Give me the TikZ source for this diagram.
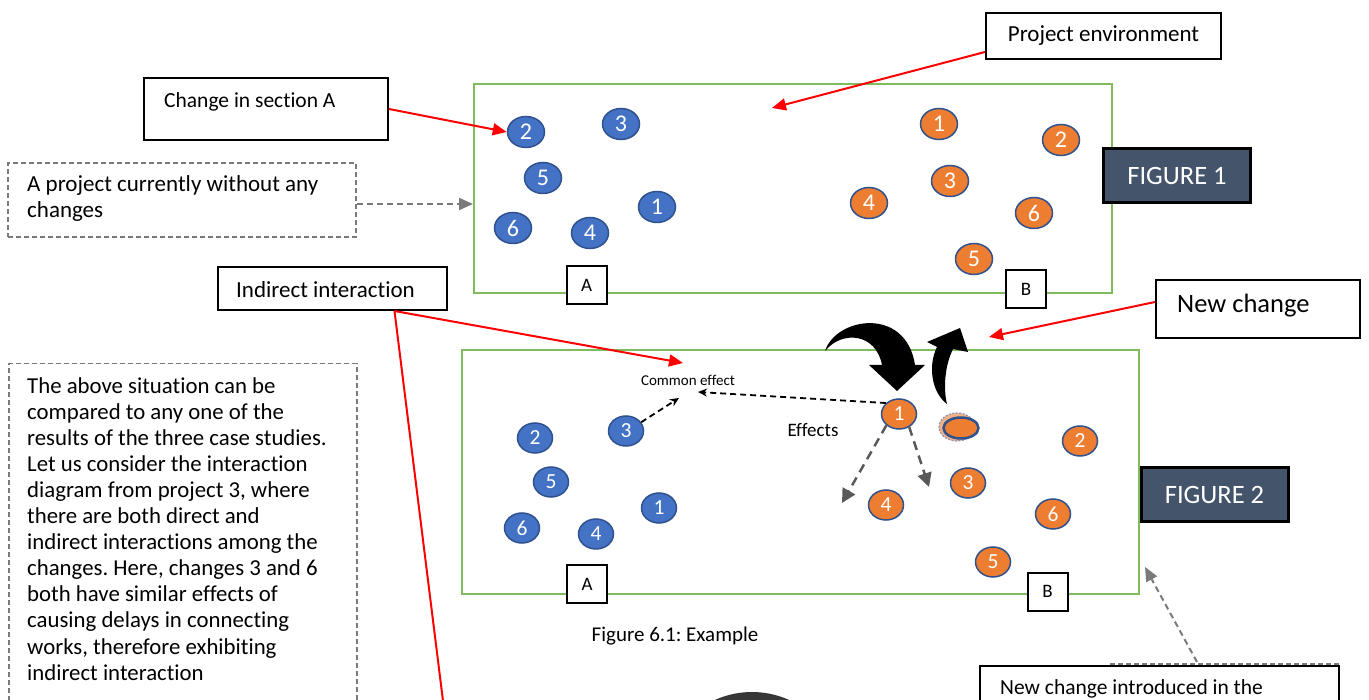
\documentclass[tikz,border=0pt]{standalone}
\usepackage{fontspec}
\setmainfont{Carlito}[Ligatures={TeX,NoCommon}]
\frenchspacing
\usetikzlibrary{shapes.geometric,arrows.meta}
\definecolor{chgblue}{HTML}{4472C4}
\definecolor{chgorange}{HTML}{ED7D31}
\definecolor{rimblue}{HTML}{2F528F}
\definecolor{envgreen}{RGB}{128,188,94}
\definecolor{slate}{HTML}{44546A}
\definecolor{ghostfill}{HTML}{F4B183}
\definecolor{notegray}{RGB}{122,122,122}

\begin{document}
\begin{tikzpicture}[x=1pt,y=-1pt,
  txt/.style={inner sep=0pt},
  env/.style={draw=envgreen, line width=2pt, inner sep=0pt},
  chgA/.style={ellipse, draw=rimblue, line width=1.5pt, fill=chgblue, text=white,
    inner sep=0pt, minimum width=37pt, minimum height=31pt, font=\fontsize{24}{24}\selectfont},
  chgB/.style={chgA, fill=chgorange},
  chgAs/.style={chgA, minimum width=35pt, minimum height=30pt, font=\fontsize{21.5}{21.5}\selectfont},
  chgBs/.style={chgAs, fill=chgorange},
  tag/.style={draw, line width=2pt, fill=white, minimum width=40pt, minimum height=38pt,
    inner sep=0pt, font=\fontsize{19}{19}\selectfont},
  figtag/.style={draw, line width=3pt, fill=slate, text=white, minimum width=147pt,
    minimum height=54pt, font=\fontsize{26.5}{26.5}\selectfont},
  callout/.style={draw, line width=2pt, fill=white, inner sep=0pt},
  notebox/.style={draw=notegray, dash pattern=on 5pt off 3pt, line width=1.5pt, inner sep=0pt},
  pointer/.style={red, line width=2pt, -{Triangle[length=14pt,width=12pt]}},
  hint/.style={draw=notegray, dash pattern=on 6pt off 4pt, line width=2pt,
    -{Triangle[length=14pt,width=12pt]}},
  effect/.style={dash pattern=on 6pt off 4pt, line width=1.8pt, -{Stealth[length=9pt,width=8pt]}},
  sideeffect/.style={draw=black!65, line width=2.5pt, dash pattern=on 9pt off 6pt,
    -{Triangle[length=14pt,width=14pt]}},
  lbl/.style={txt, font=\fontsize{23}{25.5}\selectfont}
]
\useasboundingbox (0,0) rectangle (1369,700);
\clip (0,0) rectangle (1369,700);

% ---------- project environments ----------
\node[env, minimum width=638pt, minimum height=209pt] (f1) at (793,188.5) {};
\node[env, minimum width=677pt, minimum height=244pt] (f2) at (800.5,472) {};

% ---------- figure 1: section A ----------
\node[chgA] (a12) at (526,132) {2};
\node[chgA] (a13) at (621,124) {3};
\node[chgA] (a15) at (543,178) {5};
\node[chgA] (a11) at (657,207) {1};
\node[chgA] (a16) at (513,228) {6};
\node[chgA] (a14) at (590,233) {4};
% ---------- figure 1: section B ----------
\node[chgB] (b11) at (939,124) {1};
\node[chgB] (b12) at (1061,140) {2};
\node[chgB] (b13) at (950,181) {3};
\node[chgB] (b14) at (869,203) {4};
\node[chgB] (b16) at (1034,213) {6};
\node[chgB] (b15) at (974,259) {5};

\node[tag] (f1a) at (586.5,285) {A};
\node[tag] (f1b) at (1026,289) {B};
\node[figtag] (fig1) at (1177,176) {FIGURE 1};

% ---------- figure 2: section A ----------
\node[chgAs] (a22) at (535,438) {2};
\node[chgAs] (a23) at (626,431) {3};
\node[chgAs] (a25) at (551,482) {5};
\node[chgAs] (a21) at (659,508) {1};
\node[chgAs] (a26) at (522,528) {6};
\node[chgAs] (a24) at (596,534) {4};
% ---------- figure 2: section B ----------
\node[chgBs] (b21) at (899,414) {1};
\node[chgBs] (b22) at (1080,441) {2};
\node[chgBs] (b23) at (968,483) {3};
\node[chgBs] (b24) at (886,505) {4};
\node[chgBs] (b26) at (1053,514) {6};
\node[chgBs] (b25) at (993,562) {5};
% the newly introduced change, with its faded previous position
\node[ellipse, draw=rimblue!60, dash pattern=on 2pt off 1.5pt, line width=1.2pt, fill=ghostfill,
  minimum width=36pt, minimum height=28pt, inner sep=0pt] (ghost) at (957,427) {};
\node[ellipse, draw=rimblue, line width=2.5pt, fill=chgorange,
  minimum width=35pt, minimum height=21pt, inner sep=0pt] (newone) at (961,428) {};

\node[tag] (f2a) at (587,584) {A};
\node[tag] (f2b) at (1047.5,591.5) {B};
\node[figtag] (fig2) at (1214.5,495) {FIGURE 2};

% ---------- effects inside figure 2 ----------
\node[txt, font=\fontsize{15}{15}\selectfont] (ce) at (688,380) {Common effect};
\node[txt, font=\fontsize{19}{19}\selectfont] (eff) at (813,430) {Effects};
\coordinate (ceR) at (698,392);
\coordinate (ceL) at (679,398);
\draw[effect] (b21.140) -- (ceR);
\draw[effect] (a23.30) -- (ceL);
\coordinate (effL) at (842,503);
\coordinate (effR) at (929,487);
\draw[sideeffect] (b21.222) -- (effL);
\draw[sideeffect] (b21.-52) -- (effR);

% ---------- curved black arrows ----------
\fill (825,351) .. controls (836,317) and (906,306) .. (915,365)
  -- (925,365) -- (897,391) -- (869,365) -- (882,365)
  .. controls (876,333) and (842,330) .. (825,351) -- cycle;
\fill (947,404) .. controls (931,392) and (928,365) .. (937,347)
  -- (927,342) -- (960,328) -- (968,352) -- (953,349)
  .. controls (945,365) and (943,388) .. (947,404) -- cycle;

% ---------- callouts ----------
\node[callout, minimum width=235pt, minimum height=46pt, font=\fontsize{23}{23}\selectfont]
  (penv) at (1103.5,36) {Project environment};
\node[callout, minimum width=244pt, minimum height=62pt] (secA) at (266,109) {};
\node[txt, anchor=west, font=\fontsize{21.5}{21.5}\selectfont] (secAtxt) at (164,102) {Change in section A};
\node[notebox, minimum width=348pt, minimum height=74pt] (quiet) at (182,200) {};
\node[lbl, anchor=west, align=left] (quiettxt) at (27,198.5) {A project currently without any\\changes};
\node[callout, minimum width=229pt, minimum height=43pt] (indir) at (332.5,288.5) {};
\node[lbl, anchor=west] (indirtxt) at (236,290) {Indirect interaction};
\node[callout, minimum width=204pt, minimum height=58pt] (newc) at (1258,309) {};
\node[txt, anchor=west, font=\fontsize{26.5}{26.5}\selectfont] (newctxt) at (1177,306) {New change};

\node[notebox, anchor=north west, minimum width=348pt, minimum height=380pt] (story) at (8,363) {};
\node[txt, anchor=north west, align=left, font=\fontsize{22.8}{26.1}\selectfont] (storytxt) at (27,377)
  {The above situation can be\\
   compared to any one of the\\
   results of the three case studies.\\
   Let us consider the interaction\\
   diagram from project 3, where\\
   there are both direct and\\
   indirect interactions among the\\
   changes. Here, changes 3 and 6\\
   both have similar effects of\\
   causing delays in connecting\\
   works, therefore exhibiting\\
   indirect interaction};

\node[txt, font=\fontsize{21}{21}\selectfont] (caption) at (675,636) {Figure 6.1: Example};

\node[notebox, anchor=north west, minimum width=229pt, minimum height=60pt] (introbg) at (1108,663) {};
\node[callout, anchor=north west, minimum width=359pt, minimum height=60pt] (intro) at (979,665) {};
\node[txt, anchor=west, font=\fontsize{21.5}{21.5}\selectfont] (introtxt) at (1000,689) {New change introduced in the};

\fill[black!78] (752,782) circle (90pt);

% ---------- pointers ----------
\draw[pointer] (secA.east) -- (a12.west);
\coordinate (envspot) at (772,108);
\draw[pointer] ([yshift=8pt]penv.south west) -- (envspot);
\coordinate (newspot) at (989,337);
\draw[pointer] ([yshift=7pt]newc.west) -- (newspot);
\coordinate (indfoot) at ([xshift=62pt]indir.south);
\coordinate (common) at (683,363);
\coordinate (offpage) at (446,725);
\draw[pointer] (indfoot) -- (common);
\draw[red, line width=2pt] (indfoot) -- (offpage);

\coordinate (quietout) at ([yshift=-4pt]quiet.east);
\draw[hint] (quietout) -- (f1.west |- quietout);
\coordinate (introtop) at (1197,662);
\coordinate (f2corner) at (1145,567);
\draw[hint] (introtop) -- (f2corner);
\end{tikzpicture}
\end{document}
